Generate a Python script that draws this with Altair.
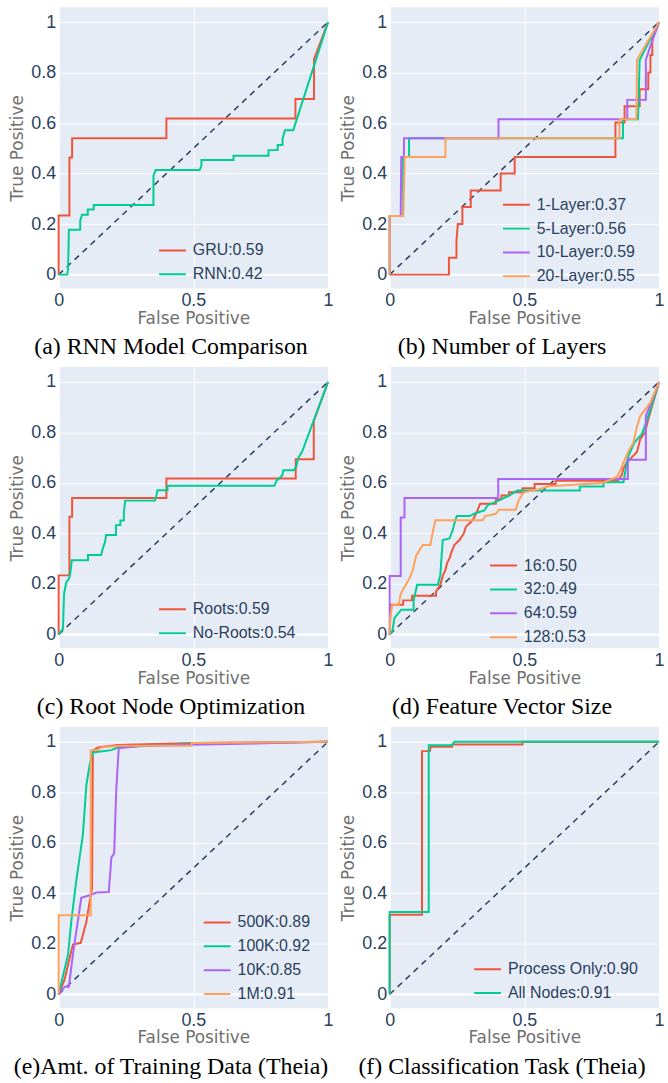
import altair as alt
import pandas as pd

# ---------------- data ----------------
RED, GREEN, PURPLE, ORANGE = "#EF553B", "#00CC96", "#AB63FA", "#FFA15A"

# (a) RNN Model Comparison
a_gru_x = [0, 0, 0.04, 0.04, 0.05, 0.05, 0.40, 0.40, 0.879, 0.879, 0.948, 0.948, 1]
a_gru_y = [0, 0.234, 0.234, 0.464, 0.464, 0.54, 0.54, 0.618, 0.618, 0.695, 0.695, 0.853, 1]
a_rnn_x = [0, 0.032, 0.035, 0.038, 0.08, 0.08, 0.087, 0.108, 0.108, 0.13, 0.13, 0.352, 0.352, 0.36,
           0.523, 0.53, 0.53, 0.649, 0.649, 0.779, 0.779, 0.813, 0.813, 0.831, 0.831, 0.84, 0.871, 1]
a_rnn_y = [0, 0, 0.024, 0.178, 0.178, 0.214, 0.237, 0.237, 0.258, 0.258, 0.276, 0.276, 0.392, 0.414,
           0.414, 0.43, 0.454, 0.454, 0.471, 0.471, 0.493, 0.493, 0.513, 0.513, 0.537, 0.572, 0.572, 1]

# (b) Number of Layers
b_l1_x = [0, 0.22, 0.22, 0.248, 0.248, 0.253, 0.27, 0.27, 0.301, 0.301, 0.412, 0.412, 0.464, 0.464,
          0.838, 0.838, 0.872, 0.872, 0.928, 0.928, 0.96, 0.96, 0.968, 0.968, 0.975, 0.975, 1]
b_l1_y = [0, 0, 0.067, 0.067, 0.135, 0.2, 0.2, 0.268, 0.268, 0.333, 0.333, 0.4, 0.4, 0.466,
          0.466, 0.602, 0.602, 0.667, 0.667, 0.734, 0.734, 0.8, 0.8, 0.87, 0.87, 0.935, 1]
b_l5_x = [0, 0, 0.05, 0.05, 0.072, 0.072, 0.866, 0.866, 0.922, 0.928, 1]
b_l5_y = [0, 0.232, 0.232, 0.466, 0.466, 0.54, 0.54, 0.615, 0.615, 0.85, 1]
b_l10_x = [0, 0, 0.041, 0.043, 0.053, 0.053, 0.404, 0.404, 0.882, 0.882, 0.951, 0.951, 0.966, 1]
b_l10_y = [0, 0.232, 0.232, 0.466, 0.466, 0.54, 0.54, 0.615, 0.615, 0.692, 0.692, 0.85, 0.9, 1]
b_l20_x = [0, 0, 0.05, 0.056, 0.207, 0.207, 0.853, 0.853, 0.916, 0.918, 1]
b_l20_y = [0, 0.232, 0.232, 0.466, 0.466, 0.54, 0.54, 0.615, 0.615, 0.85, 1]

# (c) Root Node Optimization
c_roots_x = [0, 0, 0.04, 0.04, 0.05, 0.05, 0.40, 0.40, 0.88, 0.88, 0.947, 0.947, 1]
c_roots_y = [0, 0.234, 0.234, 0.466, 0.466, 0.54, 0.54, 0.618, 0.618, 0.694, 0.694, 0.845, 1]
c_noroots_x = [0, 0.016, 0.02, 0.028, 0.038, 0.043, 0.049, 0.109, 0.109, 0.158, 0.163, 0.173, 0.176,
               0.213, 0.213, 0.229, 0.229, 0.242, 0.242, 0.247, 0.358, 0.362, 0.367, 0.404, 0.404,
               0.801, 0.809, 0.83, 0.834, 0.873, 0.883, 0.889, 0.904, 1]
c_noroots_y = [0, 0.022, 0.16, 0.206, 0.22, 0.24, 0.294, 0.294, 0.315, 0.315, 0.337, 0.37, 0.394,
               0.394, 0.433, 0.433, 0.451, 0.451, 0.482, 0.53, 0.53, 0.547, 0.571, 0.571, 0.589,
               0.589, 0.609, 0.63, 0.65, 0.65, 0.668, 0.698, 0.724, 1]

# (d) Feature Vector Size
d_16_x = [0, 0.004, 0.05, 0.05, 0.083, 0.083, 0.172, 0.172, 0.188, 0.197, 0.207, 0.213, 0.222, 0.23,
          0.24, 0.259, 0.275, 0.283, 0.308, 0.326, 0.336, 0.394, 0.394, 0.415, 0.415, 0.443, 0.443,
          0.493, 0.493, 0.538, 0.538, 0.616, 0.616, 0.847, 0.862, 0.868, 0.88, 0.918, 0.93, 0.948, 0.96, 1]
d_16_y = [0, 0.118, 0.118, 0.135, 0.135, 0.153, 0.153, 0.17, 0.197, 0.232, 0.256, 0.282, 0.301, 0.328,
          0.354, 0.374, 0.4, 0.426, 0.452, 0.491, 0.518, 0.518, 0.535, 0.535, 0.55, 0.55, 0.563,
          0.563, 0.579, 0.579, 0.596, 0.596, 0.609, 0.609, 0.632, 0.658, 0.681, 0.723, 0.773, 0.8, 0.852, 1]
d_32_x = [0, 0.01, 0.018, 0.028, 0.043, 0.089, 0.089, 0.102, 0.179, 0.188, 0.197, 0.222, 0.234, 0.24,
          0.249, 0.296, 0.314, 0.351, 0.363, 0.406, 0.443, 0.474, 0.706, 0.706, 0.794, 0.794, 0.868,
          0.88, 0.887, 0.908, 0.936, 0.954, 1]
d_32_y = [0, 0.013, 0.066, 0.079, 0.098, 0.098, 0.134, 0.197, 0.197, 0.236, 0.374, 0.38, 0.413, 0.439,
          0.469, 0.469, 0.478, 0.491, 0.511, 0.531, 0.55, 0.57, 0.57, 0.586, 0.586, 0.603, 0.603,
          0.681, 0.708, 0.76, 0.793, 0.845, 1]
d_64_x = [0, 0, 0.041, 0.041, 0.055, 0.055, 0.403, 0.403, 0.884, 0.884, 0.951, 0.951, 1]
d_64_y = [0, 0.232, 0.232, 0.463, 0.463, 0.54, 0.54, 0.616, 0.616, 0.692, 0.692, 0.865, 1]
d_128_x = [0, 0.002, 0.01, 0.034, 0.04, 0.049, 0.062, 0.074, 0.086, 0.098, 0.111, 0.123, 0.151, 0.16,
           0.17, 0.345, 0.355, 0.394, 0.406, 0.468, 0.478, 0.498, 0.554, 0.591, 0.788, 0.843, 0.856,
           0.868, 0.887, 0.905, 0.917, 0.93, 0.967, 1]
d_128_y = [0, 0.066, 0.118, 0.118, 0.157, 0.177, 0.2, 0.223, 0.256, 0.311, 0.334, 0.354, 0.354, 0.406,
           0.452, 0.452, 0.469, 0.478, 0.494, 0.494, 0.531, 0.563, 0.575, 0.587, 0.6, 0.623, 0.649,
           0.681, 0.727, 0.76, 0.819, 0.865, 0.917, 1]

# (e) Amount of training data
e_500k_x = [0, 0.022, 0.041, 0.053, 0.082, 0.103, 0.115, 0.124, 0.127, 0.146, 0.22, 0.5, 1]
e_500k_y = [0, 0.059, 0.145, 0.197, 0.204, 0.287, 0.366, 0.42, 0.965, 0.978, 0.987, 0.995, 1]
e_100k_x = [0, 0.022, 0.035, 0.047, 0.065, 0.09, 0.103, 0.115, 0.127, 0.196, 0.221, 0.345, 0.53, 1]
e_100k_y = [0, 0.099, 0.158, 0.289, 0.447, 0.632, 0.829, 0.908, 0.958, 0.967, 0.978, 0.984, 0.993, 1]
e_10k_x = [0, 0.022, 0.038, 0.053, 0.084, 0.115, 0.14, 0.186, 0.196, 0.206, 0.214, 0.223, 0.307, 0.58, 1]
e_10k_y = [0, 0.03, 0.03, 0.158, 0.382, 0.392, 0.403, 0.405, 0.543, 0.557, 0.813, 0.974, 0.984, 0.99, 1]
e_1m_x = [0, 0, 0.119, 0.119, 0.146, 0.159, 0.227, 0.494, 0.494, 1]
e_1m_y = [0, 0.313, 0.313, 0.967, 0.967, 0.978, 0.984, 0.984, 0.995, 1]

# (f) Classification task
f_proc_x = [0, 0, 0.12, 0.12, 0.149, 0.153, 0.232, 0.232, 0.493, 0.493, 1]
f_proc_y = [0, 0.315, 0.315, 0.963, 0.963, 0.98, 0.98, 0.989, 0.989, 1, 1]
f_all_x = [0, 0, 0.145, 0.145, 0.232, 0.24, 1]
f_all_y = [0, 0.326, 0.326, 0.986, 0.986, 1, 1]

diag_x = [0, 1]
diag_y = [0, 1]

# ---------------- helpers ----------------
Y_DOMAIN = [-0.055, 1.059]
X_DOMAIN = [0, 1]
W, H = 271, 283


def frame(series):
    rows = []
    for name, xs, ys in series:
        for i, (x, y) in enumerate(zip(xs, ys)):
            rows.append({"series": name, "x": x, "y": y, "i": i})
    return pd.DataFrame(rows)


def panel(series, colors, caption, lx, ly):
    df = frame(series)
    names = [s[0] for s in series]
    xs = alt.Scale(domain=X_DOMAIN, nice=False, zero=False)
    ys = alt.Scale(domain=Y_DOMAIN, nice=False, zero=False)
    xaxis = alt.Axis(values=[0, 0.5, 1], format="~g", title="False Positive",
                     labelPadding=3, titlePadding=1, labelFlush=False, labelOverlap=False)
    yaxis = alt.Axis(values=[0, 0.2, 0.4, 0.6, 0.8, 1], format="~g", title="True Positive",
                     labelPadding=3, titlePadding=4, labelOverlap=False)

    zero_y = alt.Chart(pd.DataFrame({"v": [0]})).mark_rule(color="white", strokeWidth=2).encode(
        y=alt.Y("v:Q", scale=ys, axis=yaxis))
    zero_x = alt.Chart(pd.DataFrame({"v": [0]})).mark_rule(color="white", strokeWidth=2).encode(
        x=alt.X("v:Q", scale=xs, axis=xaxis))
    diag = alt.Chart(pd.DataFrame({"x": diag_x, "y": diag_y})).mark_line(
        color="#2a3f5f", strokeDash=[6, 5], strokeWidth=1.5).encode(
        x=alt.X("x:Q", scale=xs, axis=xaxis), y=alt.Y("y:Q", scale=ys, axis=yaxis))
    lines = alt.Chart(df).mark_line(strokeWidth=2).encode(
        x=alt.X("x:Q", scale=xs, axis=xaxis),
        y=alt.Y("y:Q", scale=ys, axis=yaxis),
        color=alt.Color("series:N", sort=names,
                        scale=alt.Scale(domain=names, range=colors),
                        legend=alt.Legend(orient="none", legendX=lx, legendY=ly, title=None)),
        order=alt.Order("i:Q"),
    )
    return alt.layer(zero_y, zero_x, diag, lines).properties(
        width=W, height=H,
        title=alt.TitleParams(caption, orient="bottom", font="Liberation Serif", fontSize=24,
                              fontWeight="normal", color="black", offset=9,
                              anchor="middle", frame="bounds"),
    )


pa = panel([("GRU:0.59", a_gru_x, a_gru_y), ("RNN:0.42", a_rnn_x, a_rnn_y)],
           [RED, GREEN], "(a) RNN Model Comparison", 100, 233)
pb = panel([("1-Layer:0.37", b_l1_x, b_l1_y), ("5-Layer:0.56", b_l5_x, b_l5_y),
            ("10-Layer:0.59", b_l10_x, b_l10_y), ("20-Layer:0.55", b_l20_x, b_l20_y)],
           [RED, GREEN, PURPLE, ORANGE], "(b) Number of Layers", 113, 187)
pc = panel([("Roots:0.59", c_roots_x, c_roots_y), ("No-Roots:0.54", c_noroots_x, c_noroots_y)],
           [RED, GREEN], "(c) Root Node Optimization", 100, 232)
pd_ = panel([("16:0.50", d_16_x, d_16_y), ("32:0.49", d_32_x, d_32_y),
             ("64:0.59", d_64_x, d_64_y), ("128:0.53", d_128_x, d_128_y)],
            [RED, GREEN, PURPLE, ORANGE], "(d) Feature Vector Size", 100, 188)
pe = panel([("500K:0.89", e_500k_x, e_500k_y), ("100K:0.92", e_100k_x, e_100k_y),
            ("10K:0.85", e_10k_x, e_10k_y), ("1M:0.91", e_1m_x, e_1m_y)],
           [RED, GREEN, PURPLE, ORANGE], "(e)Amt. of Training Data (Theia)", 145, 185)
pf = panel([("Process Only:0.90", f_proc_x, f_proc_y), ("All Nodes:0.91", f_all_x, f_all_y)],
           [RED, GREEN], "(f) Classification Task (Theia)", 84, 232)

rows = [alt.hconcat(p, q, spacing=5).resolve_scale(color="independent")
        for p, q in [(pa, pb), (pc, pd_), (pe, pf)]]

chart = alt.vconcat(*rows, spacing=7).resolve_scale(color="independent").properties(
    padding={"left": 8, "top": 3, "right": 3, "bottom": 0},
    background="white",
).configure_view(fill="#E5ECF6", stroke=None).configure_axis(
    domain=False, ticks=False, grid=True, gridColor="white", gridWidth=1,
    labelFont="Liberation Sans", labelFontSize=18, labelColor="#2a3f5f",
    titleFont="DejaVu Sans", titleFontSize=17, titleColor="#707070", titleFontWeight="normal",
).configure_legend(
    symbolType="stroke", symbolSize=729, symbolStrokeWidth=2, labelFont="Liberation Sans",
    labelFontSize=16, labelColor="#2a3f5f", labelOffset=6, rowPadding=0, clipHeight=23.5,
    padding=0, symbolOpacity=1,
)

chart.save("out.html", embed_options={"renderer": "svg", "actions": False})
